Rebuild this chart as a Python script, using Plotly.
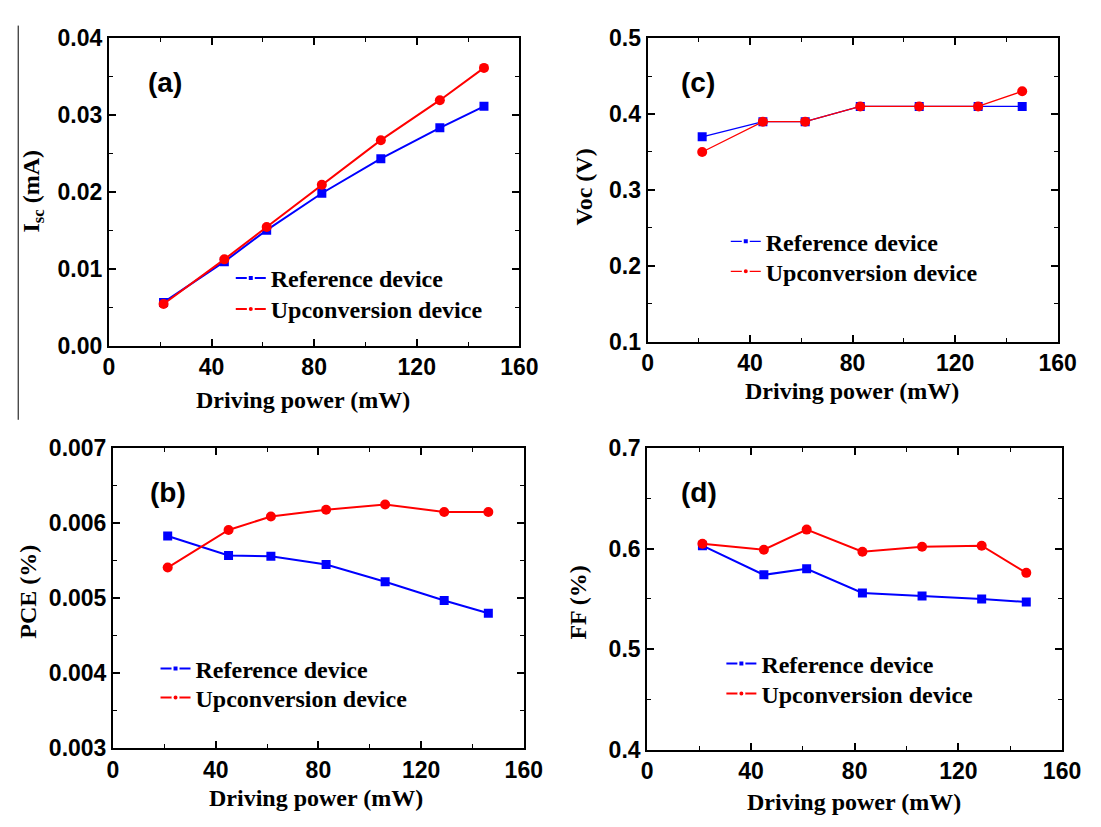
import plotly.graph_objects as go

W, H = 1101, 827

# ---------------- data ----------------
power_mw = [21.3, 45, 61.5, 83, 106, 129, 146.2]

isc_reference = [0.0056, 0.0109, 0.0150, 0.0198, 0.0243, 0.0283, 0.0311]
isc_upconversion = [0.0054, 0.0112, 0.0154, 0.0209, 0.0267, 0.0319, 0.0361]

voc_reference = [0.37, 0.39, 0.39, 0.41, 0.41, 0.41, 0.41]
voc_upconversion = [0.35, 0.39, 0.39, 0.41, 0.41, 0.41, 0.43]

pce_reference = [0.00583, 0.00557, 0.00556, 0.00545, 0.00522, 0.00497, 0.00480]
pce_upconversion = [0.00541, 0.00591, 0.00609, 0.00618, 0.00625, 0.00615, 0.00615]

ff_reference = [0.603, 0.574, 0.580, 0.556, 0.553, 0.550, 0.547]
ff_upconversion = [0.605, 0.599, 0.619, 0.597, 0.602, 0.603, 0.576]

series_names = ["Reference device", "Upconversion device"]
panel_labels = ["(a)", "(c)", "(b)", "(d)"]
y_titles = ["I<sub>sc</sub> (mA)", "Voc (V)", "PCE (%)", "FF (%)"]
x_title = "Driving power (mW)"

# ---------------- style ----------------
BLUE = "#0000FF"
RED = "#FF0000"
SANS = "Liberation Sans"
SERIF = "Liberation Serif"


def px(x):
    return x / W


def py(y):
    return 1 - y / H


# panel geometry in pixels: (left, right, top, bottom)
panels = {
    "a": dict(box=(105.3, 525.3, 25.7, 343.3), ax="", yr=[0, 0.04], ydt=0.01, yfmt=".2f",
              ref=isc_reference, up=isc_upconversion, lw=2.0,
              legend=(235, 273, 305), label=(163, 72), ytitle=(28, 184), xtitle=(304, 400)),
    "c": dict(box=(656.5, 1076, 26, 339.3), ax="2", yr=[0.1, 0.5], ydt=0.1, yfmt=".1f",
              ref=voc_reference, up=voc_upconversion, lw=1.3,
              legend=(741.5, 235, 266), label=(708, 72), ytitle=(591.5, 180), xtitle=(866, 390)),
    "b": dict(box=(109.5, 529.8, 449.3, 759.3), ax="3", yr=[0.003, 0.007], ydt=0.001, yfmt=".3f",
              ref=pce_reference, up=pce_upconversion, lw=2.0,
              legend=(158, 676, 706), label=(165.6, 495), ytitle=(23, 597), xtitle=(317, 810)),
    "d": dict(box=(656.1, 1080.6, 449.3, 760.7), ax="4", yr=[0.4, 0.7], ydt=0.1, yfmt=".1f",
              ref=ff_reference, up=ff_upconversion, lw=2.0,
              legend=(737, 671, 702), label=(709, 495), ytitle=(585, 609), xtitle=(868, 815)),
}
order = ["a", "c", "b", "d"]

fig = go.Figure()
layout = dict(
    width=W, height=H, margin=dict(l=0, r=0, t=0, b=0),
    paper_bgcolor="white", plot_bgcolor="white", showlegend=True,
    annotations=[], shapes=[],
)

LEG_FONT = 24
item_h = max(LEG_FONT * 1.3, 16) + 3

leg_count = 0
for i, key in enumerate(order):
    p = panels[key]
    ax = p["ax"]
    xa = "x" + ax
    ya = "y" + ax
    l, r, t, b = p["box"]

    # data traces
    fig.add_trace(go.Scatter(
        x=power_mw, y=p["ref"], mode="lines+markers", name=series_names[0],
        line=dict(color=BLUE, width=p["lw"]), marker=dict(symbol="square", size=9, color=BLUE),
        xaxis=xa, yaxis=ya, showlegend=False))
    fig.add_trace(go.Scatter(
        x=power_mw, y=p["up"], mode="lines+markers", name=series_names[1],
        line=dict(color=RED, width=p["lw"]), marker=dict(symbol="circle", size=10, color=RED),
        xaxis=xa, yaxis=ya, showlegend=False))

    # legend entries (one small legend per row so rows sit where the original has them)
    lx, ly1, ly2 = p["legend"]
    for name, color, sym, ly in ((series_names[0], BLUE, "square", ly1),
                                 (series_names[1], RED, "circle", ly2)):
        leg_count += 1
        leg = "legend" if leg_count == 1 else "legend%d" % leg_count
        fig.add_trace(go.Scatter(
            x=[None], y=[None], mode="lines+markers", name=name,
            line=dict(color=color, width=p["lw"]),
            marker=dict(symbol=sym, size=6, color=color, line=dict(color="white", width=2)),
            xaxis=xa, yaxis=ya, legend=leg))
        layout[leg] = dict(
            x=px(lx - 5), y=py(ly - item_h / 2 - 5), xanchor="left", yanchor="top",
            bgcolor="rgba(0,0,0,0)", borderwidth=0,
            font=dict(family=SERIF, size=LEG_FONT, color="black", weight="bold"),
        )

    common = dict(
        showline=True, linewidth=2, linecolor="black", mirror="ticks",
        ticks="inside", ticklen=7, tickwidth=1.6, tickcolor="black",
        showgrid=False, zeroline=False, ticklabelstandoff=0,
        tickfont=dict(family=SANS, size=23, color="black", weight="bold"),
    )
    layout["xaxis" + ax] = dict(
        common, domain=[px(l), px(r)], range=[0, 160], dtick=40, tick0=0,
        anchor=ya, minor=dict(dtick=20, ticks="inside", ticklen=4, tickwidth=1.4, tickcolor="black"),
    )
    layout["yaxis" + ax] = dict(
        common, domain=[py(b), py(t)], range=p["yr"], dtick=p["ydt"], tick0=p["yr"][0],
        tickformat=p["yfmt"], anchor=xa,
        minor=dict(dtick=p["ydt"] / 2, ticks="inside", ticklen=4, tickwidth=1.4, tickcolor="black"),
    )

    # panel label
    layout["annotations"].append(dict(
        text=panel_labels[i], x=px(p["label"][0]), y=py(p["label"][1]), xref="paper", yref="paper",
        xanchor="center", yanchor="middle", showarrow=False,
        font=dict(family=SANS, size=28, color="black", weight="bold")))
    # axis titles
    layout["annotations"].append(dict(
        text=y_titles[i], x=px(p["ytitle"][0]), y=py(p["ytitle"][1]), xref="paper", yref="paper",
        xanchor="center", yanchor="middle", showarrow=False, textangle=-90,
        font=dict(family=SERIF, size=24, color="black", weight="bold")))
    layout["annotations"].append(dict(
        text=x_title, x=px(p["xtitle"][0]), y=py(p["xtitle"][1]), xref="paper", yref="paper",
        xanchor="center", yanchor="middle", showarrow=False,
        font=dict(family=SERIF, size=24, color="black", weight="bold")))

# thin vertical rule at the left edge of the original figure
layout["shapes"].append(dict(type="line", xref="paper", yref="paper",
                             x0=px(12.5), x1=px(12.5), y0=py(13), y1=py(420),
                             line=dict(color="black", width=1)))

fig.update_layout(**layout)
fig.write_html("out.html", config={"displayModeBar": False},
               post_script="document.body.style.margin='0px';document.body.style.overflow='hidden';")
